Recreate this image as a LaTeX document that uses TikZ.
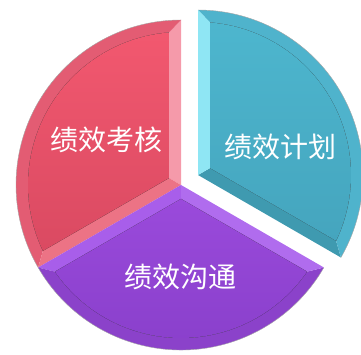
\documentclass[tikz,border=0pt]{standalone}
\usepackage{fontspec}
\newfontfamily\cjk{Noto Sans CJK SC}
\definecolor{redtop}{HTML}{F2586F}
\definecolor{redbot}{HTML}{DA4A62}
\definecolor{redband}{HTML}{E35C73}
\definecolor{redlight}{HTML}{F59AAA}
\definecolor{redside}{HTML}{EC7385}
\definecolor{purtop}{HTML}{9A4ADB}
\definecolor{purbot}{HTML}{8A40CC}
\definecolor{purband}{HTML}{8B42CA}
\definecolor{purlight}{HTML}{A85EEA}
\definecolor{purside}{HTML}{B06CEE}
\definecolor{cyatop}{HTML}{4DB6CE}
\definecolor{cyabot}{HTML}{45A5BE}
\definecolor{cyaband}{HTML}{4FB3CC}
\definecolor{cyalight}{HTML}{8FE6F4}
\definecolor{cyaside}{HTML}{3F9AB0}
\begin{document}
\begin{tikzpicture}[x=1pt,y=1pt,
  slicetext/.style={text=white,font=\cjk\fontsize{28}{28}\selectfont},
  rim/.style={draw=black!35,line width=0.4pt}]
  \useasboundingbox (0,0) rectangle (361,355);

  \begin{scope}[shift={(181,170)}]
    \fill[redlight] (0,0) -- (90:165) -- (94.5:153) -- (150:13.86) -- cycle;
    \fill[redband] (90:165) arc[start angle=90,end angle=210,radius=165] -- (205.5:153) arc[start angle=205.5,end angle=94.5,radius=153] -- cycle;
    \fill[redside] (0,0) -- (210:165) -- (205.5:153) -- (150:13.86) -- cycle;
    \fill[top color=redtop,bottom color=redbot] (150:13.86) -- (94.5:153) arc[start angle=94.5,end angle=205.5,radius=153] -- cycle;
    \draw[rim] (90:165) arc[start angle=90,end angle=210,radius=165];

    \fill[purlight] (0,0) -- (210:165) -- (214.5:153) -- (270:13.86) -- cycle;
    \fill[purband] (210:165) arc[start angle=210,end angle=330,radius=165] -- (325.5:153) arc[start angle=325.5,end angle=214.5,radius=153] -- cycle;
    \fill[purside] (0,0) -- (330:165) -- (325.5:153) -- (270:13.86) -- cycle;
    \fill[top color=purtop,bottom color=purbot] (270:13.86) -- (214.5:153) arc[start angle=214.5,end angle=325.5,radius=153] -- cycle;
    \draw[rim] (210:165) arc[start angle=210,end angle=330,radius=165];
  \end{scope}

  \begin{scope}[shift={(198,180)}]
    \fill[cyaside] (0,0) -- (-30:165) -- (-25.5:153) -- (30:13.86) -- cycle;
    \fill[cyaband] (-30:165) arc[start angle=-30,end angle=90,radius=165] -- (85.5:153) arc[start angle=85.5,end angle=-25.5,radius=153] -- cycle;
    \fill[cyalight] (0,0) -- (90:165) -- (85.5:153) -- (30:13.86) -- cycle;
    \fill[top color=cyatop,bottom color=cyabot] (30:13.86) -- (-25.5:153) arc[start angle=-25.5,end angle=85.5,radius=153] -- cycle;
    \draw[rim] (-30:165) arc[start angle=-30,end angle=90,radius=165];
  \end{scope}

  \node[slicetext] (kaohe) at (106,215) {绩效考核};
  \node[slicetext] (jihua) at (280,208) {绩效计划};
  \node[slicetext] (goutong) at (180,78) {绩效沟通};
\end{tikzpicture}
\end{document}
